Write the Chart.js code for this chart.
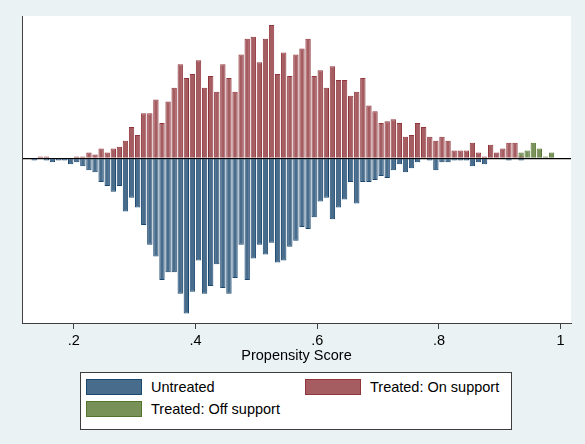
<!DOCTYPE html>
<html>
<head>
<meta charset="utf-8">
<script src="https://cdn.jsdelivr.net/npm/chart.js@4.4.1/dist/chart.umd.min.js"></script>
<style>
  html, body { margin: 0; padding: 0; background: #eaf2f3; }
  #wrap { position: relative; width: 585px; height: 444px; overflow: hidden; }
  #chart { position: absolute; left: 0; top: 0; }
  .legend {
    position: absolute; left: 80px; top: 372px; width: 432px; height: 58px;
    box-sizing: border-box; background: #fff; border: 1px solid #3d3d3d;
    font-family: "Liberation Sans", Arial, sans-serif; font-size: 14.5px; color: #000;
  }
  .item { position: absolute; display: flex; align-items: center; height: 16px; white-space: nowrap; }
  .sw { width: 56px; height: 16px; box-sizing: border-box; border: 1px solid; margin-right: 9px; }
</style>
</head>
<body>
<div id="wrap">
  <canvas id="chart" width="585" height="444"></canvas>
  <div class="legend">
    <div class="item" style="left:5px; top:6px;"><span class="sw" style="background:rgb(72,108,140); border-color:#1a476f;"></span>Untreated</div>
    <div class="item" style="left:224px; top:6px;"><span class="sw" style="background:rgb(166,93,98); border-color:#90353b;"></span>Treated: On support</div>
    <div class="item" style="left:5px; top:28px;"><span class="sw" style="background:rgb(119,145,89); border-color:#55752f;"></span>Treated: Off support</div>
  </div>
</div>
<script>
// Propensity score bins: width 0.01, first bin starts at 0.13
const binWidth = 0.01;
const binStart = Array.from({ length: 86 }, (_, i) => +(0.13 + i * binWidth).toFixed(2));

// Counts per bin
const untreated = [
  1, 0, 1, 2, 1, 1, 3, 2, 4, 6,
  7, 12, 14, 17, 14, 27, 20, 25, 34, 44,
  50, 62, 58, 58, 69, 79, 68, 52, 69, 65,
  54, 66, 69, 61, 44, 62, 51, 44, 49, 43,
  53, 52, 45, 42, 35, 36, 30, 22, 20, 31,
  25, 21, 12, 23, 12, 12, 11, 9, 10, 6,
  3, 7, 5, 2, 0, 1, 6, 2, 2, 1,
  1, 1, 4, 2, 3, 0, 0, 0, 1, 0,
  1, 0, 0, 0, 0, 0
];
const treatedOnSupport = [
  0, 1, 1, 0, 0, 0, 0, 1, 1, 3,
  2, 5, 3, 5, 6, 9, 16, 12, 23, 23,
  30, 18, 29, 36, 48, 41, 43, 50, 36, 42,
  34, 48, 41, 34, 53, 61, 62, 49, 61, 68,
  43, 54, 42, 53, 56, 61, 42, 45, 36, 47,
  40, 40, 32, 34, 41, 27, 24, 18, 19, 20,
  18, 11, 12, 18, 16, 11, 9, 11, 9, 4,
  4, 4, 8, 3, 1, 7, 3, 5, 8, 8,
  1, 0, 0, 0, 0, 0
];
const treatedOffSupport = [
  0, 0, 0, 0, 0, 0, 0, 0, 0, 0,
  0, 0, 0, 0, 0, 0, 0, 0, 0, 0,
  0, 0, 0, 0, 0, 0, 0, 0, 0, 0,
  0, 0, 0, 0, 0, 0, 0, 0, 0, 0,
  0, 0, 0, 0, 0, 0, 0, 0, 0, 0,
  0, 0, 0, 0, 0, 0, 0, 0, 0, 0,
  0, 0, 0, 0, 0, 0, 0, 0, 0, 0,
  0, 0, 0, 0, 0, 0, 0, 0, 0, 0,
  3, 4, 8, 5, 1, 3
];

const xTicks = [0.2, 0.4, 0.6, 0.8, 1];
const xTickLabels = ['.2', '.4', '.6', '.8', '1'];
const axisTitle = 'Propensity Score';

const FONT = '"Liberation Sans", Arial, sans-serif';

// untreated counts hang below the zero line, treated counts stand above it
function points(counts, sign) {
  return counts.map((c, i) => ({ x: binStart[i] + binWidth / 2, y: c ? sign * c : null }));
}

const plotBackground = {
  id: 'plotBackground',
  beforeDraw(chart) {
    const { ctx, chartArea: a } = chart;
    ctx.save();
    ctx.fillStyle = '#ffffff';
    ctx.fillRect(a.left, a.top, a.right - a.left, a.bottom - a.top);
    ctx.restore();
  }
};

new Chart(document.getElementById('chart'), {
  type: 'bar',
  data: {
    datasets: [
      { label: 'Untreated', data: points(untreated, -1),
        backgroundColor: 'rgb(72,108,140)', borderColor: '#1a476f' },
      { label: 'Treated: On support', data: points(treatedOnSupport, 1),
        backgroundColor: 'rgb(166,93,98)', borderColor: '#90353b' },
      { label: 'Treated: Off support', data: points(treatedOffSupport, 1),
        backgroundColor: 'rgb(119,145,89)', borderColor: '#55752f' }
    ]
  },
  plugins: [plotBackground],
  options: {
    responsive: false,
    animation: false,
    devicePixelRatio: 1,
    layout: { padding: { left: 22, right: 14, top: 16, bottom: 79 } },
    plugins: { legend: { display: false }, tooltip: { enabled: false } },
    datasets: {
      bar: {
        grouped: false,
        barPercentage: 0.88,
        categoryPercentage: 1,
        borderWidth: 1,
        borderSkipped: 'start'
      }
    },
    scales: {
      x: {
        type: 'linear',
        min: 0.115,
        max: 1.017,
        offset: false,
        afterBuildTicks: s => { s.ticks = xTicks.map(v => ({ value: v })); },
        afterFit: s => { s.height = 42; },
        grid: { offset: false, drawOnChartArea: false, drawTicks: true, tickLength: 6, tickColor: '#404040', tickWidth: 1 },
        border: { display: true, color: '#404040', width: 1 },
        ticks: {
          autoSkip: false, maxRotation: 0, padding: 3, color: '#000',
          font: { family: FONT, size: 14.5 },
          callback: (v, i) => xTickLabels[i]
        },
        title: {
          display: true, text: axisTitle, color: '#000',
          font: { family: FONT, size: 14.5 }, padding: { top: 0, bottom: 0 }
        }
      },
      y: {
        min: -83.9,
        max: 72.6,
        z: 1,
        afterBuildTicks: s => { s.ticks = [{ value: 0 }]; },
        afterFit: s => { s.width = 0; },
        ticks: { display: false },
        grid: { drawTicks: false, color: '#000', lineWidth: 1.3 },
        border: { display: true, color: '#404040', width: 1 }
      }
    }
  }
});
</script>
</body>
</html>
